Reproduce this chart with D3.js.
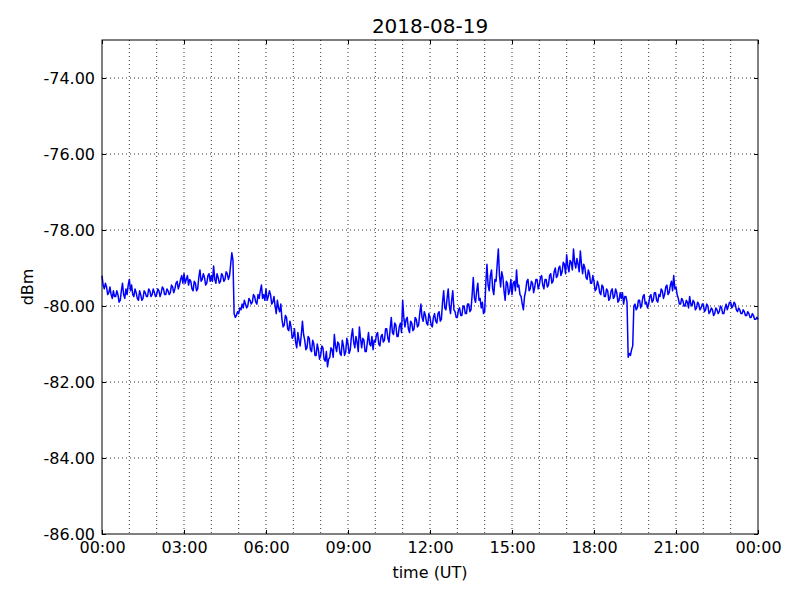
<!DOCTYPE html>
<html><head><meta charset="utf-8">
<script src="https://cdn.jsdelivr.net/npm/d3@7"></script>
<style>body{margin:0;background:#fff}svg{display:block}text{font-family:"DejaVu Sans",sans-serif;fill:#000}</style>
</head><body>
<svg id="c" width="800" height="600"></svg>
<script>
const title = "2018-08-19";
const xLabel = "time (UT)";
const yLabel = "dBm";
const stepMinutes = 2.5;
// values every 2.5 minutes, one row per hour (00:00 .. 23:57.5), plus the final 24:00 value
const hourlyRows = [
 [-79.2,-79.45,-79.55,-79.4,-79.5,-79.7,-79.65,-79.5,-79.7,-79.8,-79.6,-79.75,-79.75,-79.6,-79.7,-79.9,-79.85,-79.6,-79.4,-79.7,-79.8,-79.55,-79.7,-79.45],
 [-79.3,-79.6,-79.45,-79.7,-79.75,-79.55,-79.65,-79.8,-79.85,-79.6,-79.7,-79.85,-79.8,-79.6,-79.65,-79.75,-79.75,-79.55,-79.6,-79.75,-79.7,-79.55,-79.65,-79.75],
 [-79.7,-79.55,-79.6,-79.75,-79.65,-79.5,-79.55,-79.7,-79.7,-79.55,-79.6,-79.7,-79.65,-79.45,-79.5,-79.65,-79.55,-79.4,-79.35,-79.55,-79.45,-79.3,-79.2,-79.4],
 [-79.15,-79.4,-79.3,-79.2,-79.45,-79.3,-79.35,-79.55,-79.6,-79.35,-79.4,-79.6,-79.55,-79.25,-79.05,-79.35,-79.3,-79.15,-79.25,-79.45,-79.4,-79.2,-79.15,-79.35],
 [-79.2,-79.35,-78.95,-79.3,-79.4,-79.15,-79.25,-79.4,-79.35,-79.15,-79.2,-79.35,-79.3,-79.1,-79.15,-79.3,-79.2,-78.9,-78.6,-78.8,-80.2,-80.3,-80.25,-80.15],
 [-80.2,-80.05,-80.1,-79.95,-80.05,-79.85,-79.95,-80.05,-80.0,-79.8,-79.85,-79.95,-79.9,-79.7,-79.75,-79.9,-79.95,-79.7,-79.8,-79.6,-79.45,-79.8,-79.7,-79.85],
 [-79.55,-79.85,-79.75,-79.6,-79.7,-79.95,-79.9,-79.75,-80.0,-80.2,-79.85,-80.05,-80.15,-79.95,-80.35,-80.55,-80.5,-80.25,-80.3,-80.6,-80.65,-80.4,-80.55,-80.85],
 [-80.8,-80.6,-80.95,-81.1,-80.7,-80.9,-81.05,-80.75,-80.4,-80.75,-80.9,-81.15,-81.1,-80.8,-80.85,-81.15,-81.2,-80.9,-81.0,-81.3,-81.3,-81.0,-81.15,-81.4],
 [-81.3,-81.05,-81.1,-81.4,-81.45,-81.2,-81.6,-81.4,-81.35,-81.1,-81.15,-81.35,-80.75,-81.05,-81.2,-80.95,-81.0,-81.25,-81.3,-80.9,-81.05,-81.3,-81.2,-80.85],
 [-81.0,-81.25,-81.15,-80.8,-80.6,-80.95,-81.1,-80.8,-80.95,-81.2,-80.55,-80.85,-81.1,-80.85,-80.9,-81.2,-81.2,-80.95,-80.7,-81.0,-81.05,-80.8,-81.15,-80.9],
 [-80.95,-80.75,-80.7,-81.0,-81.05,-80.8,-80.75,-80.95,-80.9,-80.6,-80.6,-80.85,-80.95,-80.6,-80.3,-80.7,-80.75,-80.45,-80.5,-80.8,-80.8,-80.55,-80.45,-80.7],
 [-79.85,-80.3,-80.55,-80.35,-80.3,-80.6,-80.7,-80.4,-80.45,-80.65,-80.6,-80.3,-80.35,-80.55,-80.5,-80.2,-79.95,-80.3,-80.4,-80.15,-80.25,-80.45,-80.5,-80.2],
 [-80.3,-80.5,-80.55,-80.3,-80.2,-80.4,-80.45,-80.2,-80.15,-80.4,-80.35,-79.9,-79.6,-80.05,-80.1,-79.8,-79.55,-80.0,-80.2,-79.85,-79.6,-80.1,-80.15,-80.3],
 [-80.3,-80.1,-80.05,-80.25,-80.25,-80.0,-80.0,-80.2,-80.2,-79.95,-79.95,-80.15,-80.1,-79.7,-79.25,-79.8,-79.9,-79.6,-79.4,-79.85,-79.8,-80.05,-79.9,-80.2],
 [-80.15,-79.4,-78.9,-79.45,-79.6,-79.2,-79.05,-79.55,-79.7,-79.3,-79.35,-78.9,-78.5,-79.2,-79.5,-79.1,-79.25,-79.6,-79.85,-79.35,-79.4,-79.7,-79.6,-79.3],
 [-79.7,-79.4,-79.35,-79.6,-79.05,-79.5,-79.45,-79.7,-79.75,-79.95,-80.1,-79.75,-79.6,-79.35,-79.3,-79.6,-79.55,-79.35,-79.4,-79.65,-79.5,-79.3,-79.3,-79.55],
 [-79.45,-79.25,-79.2,-79.45,-79.55,-79.3,-79.3,-79.5,-79.45,-79.2,-79.15,-79.4,-79.35,-79.1,-79.0,-79.25,-79.2,-79.0,-78.95,-79.2,-79.1,-78.85,-78.9,-79.15],
 [-78.65,-78.95,-79.1,-78.8,-78.85,-79.05,-78.5,-78.85,-79.0,-78.75,-78.9,-79.1,-78.55,-78.9,-79.15,-78.9,-79.0,-79.25,-79.3,-79.05,-79.15,-79.4,-79.4,-79.2],
 [-79.35,-79.6,-79.55,-79.35,-79.45,-79.65,-79.7,-79.45,-79.5,-79.75,-79.75,-79.55,-79.6,-79.85,-79.8,-79.6,-79.55,-79.8,-79.75,-79.55,-79.65,-79.9,-79.85,-79.65],
 [-79.8,-79.65,-79.95,-79.75,-79.75,-79.9,-81.35,-81.25,-81.3,-81.15,-81.05,-80.0,-79.95,-80.1,-80.05,-79.85,-79.85,-80.05,-79.95,-79.75,-79.7,-79.95,-79.9,-80.05],
 [-79.95,-79.75,-79.7,-79.9,-79.85,-79.65,-79.65,-79.85,-79.9,-79.7,-79.75,-79.55,-79.6,-79.8,-79.7,-79.5,-79.45,-79.7,-79.65,-79.45,-79.35,-79.6,-79.2,-79.55],
 [-79.5,-79.7,-79.8,-79.95,-79.95,-79.8,-79.85,-80.0,-80.0,-79.85,-79.9,-80.05,-79.75,-79.95,-80.0,-79.85,-79.9,-80.1,-80.05,-79.9,-79.95,-80.1,-80.05,-79.95],
 [-79.95,-80.15,-80.1,-79.95,-80.0,-80.2,-80.15,-80.05,-80.1,-80.25,-80.2,-80.05,-80.1,-80.2,-80.15,-80.0,-80.05,-80.2,-80.2,-80.05,-79.95,-80.1,-80.0,-79.9],
 [-79.9,-80.05,-80.0,-79.9,-79.95,-80.1,-80.15,-80.05,-80.1,-80.2,-80.2,-80.1,-80.15,-80.25,-80.25,-80.15,-80.2,-80.3,-80.3,-80.2,-80.25,-80.35,-80.35,-80.3]
];
const finalValue = -80.35;
const yTicks = [-86,-84,-82,-80,-78,-76,-74];
const xTickHours = [0,3,6,9,12,15,18,21,24];
const xTickLabels = ["00:00","03:00","06:00","09:00","12:00","15:00","18:00","21:00","00:00"];
const gridHours = d3.range(0,25);

const values = hourlyRows.flat().concat([finalValue]);
const data = values.map((v,i)=>({m:i*stepMinutes, v}));

const svg = d3.select("#c");
const L=102, R=758, T=40, B=534;
const x = d3.scaleLinear().domain([0,24*60]).range([L,R]);
const y = d3.scaleLinear().domain([-86,-73]).range([B,T]);

const g = svg.append("g");
// grid
g.selectAll(".vg").data(gridHours.slice(1,-1)).enter().append("line")
 .attr("x1",d=>x(d*60)).attr("x2",d=>x(d*60)).attr("y1",T).attr("y2",B)
 .attr("stroke","#000").attr("stroke-width",0.8).attr("stroke-dasharray","1,3");
g.selectAll(".hg").data(yTicks.slice(1)).enter().append("line")
 .attr("x1",L).attr("x2",R).attr("y1",d=>y(d)).attr("y2",d=>y(d))
 .attr("stroke","#000").attr("stroke-width",0.8).attr("stroke-dasharray","1,3");

// line
const line = d3.line().x(d=>x(d.m)).y(d=>y(d.v));
svg.append("path").datum(data).attr("d",line).attr("fill","none")
 .attr("stroke","#0000ff").attr("stroke-width",1.5).attr("stroke-linejoin","round");

// axes (inward ticks)
const xAxis = d3.axisBottom(x).tickValues(xTickHours.map(h=>h*60))
  .tickFormat((d,i)=>xTickLabels[i]).tickSizeInner(-4).tickSizeOuter(0).tickPadding(8);
const gx = svg.append("g").attr("transform",`translate(0,${B})`).call(xAxis);
const yAxis = d3.axisLeft(y).tickValues(yTicks).tickFormat(d=>d.toFixed(2))
  .tickSizeInner(-4).tickSizeOuter(0).tickPadding(7);
const gy = svg.append("g").attr("transform",`translate(${L},0)`).call(yAxis);
svg.append("g").attr("transform",`translate(0,${T})`).call(d3.axisTop(x).tickValues(xTickHours.map(h=>h*60)).tickFormat("").tickSizeInner(-4).tickSizeOuter(0)).select(".domain").remove();
svg.append("g").attr("transform",`translate(${R},0)`).call(d3.axisRight(y).tickValues(yTicks).tickFormat("").tickSizeInner(-4).tickSizeOuter(0)).select(".domain").remove();
svg.selectAll(".tick text").attr("font-size",16).attr("font-family","DejaVu Sans");
gx.select(".domain").remove(); gy.select(".domain").remove();
svg.append("rect").attr("x",L).attr("y",T).attr("width",R-L).attr("height",B-T)
 .attr("fill","none").attr("stroke","#000").attr("stroke-width",1);

// texts
svg.append("text").attr("x",(L+R)/2).attr("y",33).attr("text-anchor","middle").attr("font-size",20).text(title);
svg.append("text").attr("x",(L+R)/2).attr("y",578).attr("text-anchor","middle").attr("font-size",16).text(xLabel);
svg.append("text").attr("transform",`translate(33,${(T+B)/2}) rotate(-90)`).attr("text-anchor","middle").attr("font-size",16).text(yLabel);
</script>
</body></html>
